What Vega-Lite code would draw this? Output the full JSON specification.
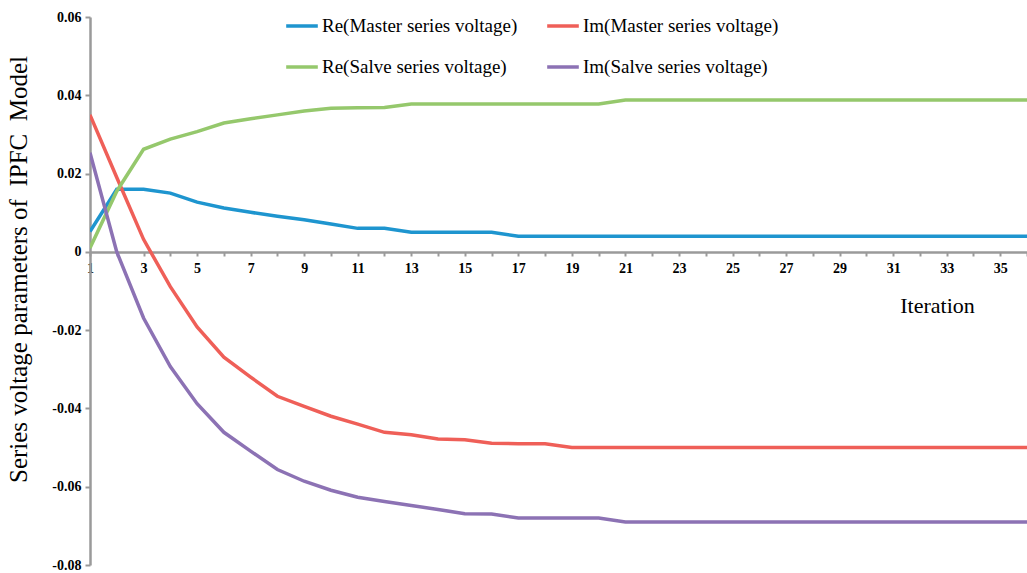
{
  "$schema": "https://vega.github.io/schema/vega-lite/v6.json",
  "autosize": "none",
  "padding": {"left": 90, "top": 17, "right": 0, "bottom": 8},
  "width": 937,
  "height": 548,
  "background": "white",
  "config": {"view": {"stroke": null}},
  "data": {"values": [
    {"it":1,"s":"Re(Master series voltage)","v":0.0052},
    {"it":2,"s":"Re(Master series voltage)","v":0.016},
    {"it":3,"s":"Re(Master series voltage)","v":0.016},
    {"it":4,"s":"Re(Master series voltage)","v":0.015},
    {"it":5,"s":"Re(Master series voltage)","v":0.0127},
    {"it":6,"s":"Re(Master series voltage)","v":0.0112},
    {"it":7,"s":"Re(Master series voltage)","v":0.0101},
    {"it":8,"s":"Re(Master series voltage)","v":0.0091},
    {"it":9,"s":"Re(Master series voltage)","v":0.0082},
    {"it":10,"s":"Re(Master series voltage)","v":0.0071},
    {"it":11,"s":"Re(Master series voltage)","v":0.006},
    {"it":12,"s":"Re(Master series voltage)","v":0.006},
    {"it":13,"s":"Re(Master series voltage)","v":0.005},
    {"it":14,"s":"Re(Master series voltage)","v":0.005},
    {"it":15,"s":"Re(Master series voltage)","v":0.005},
    {"it":16,"s":"Re(Master series voltage)","v":0.005},
    {"it":17,"s":"Re(Master series voltage)","v":0.004},
    {"it":18,"s":"Re(Master series voltage)","v":0.004},
    {"it":19,"s":"Re(Master series voltage)","v":0.004},
    {"it":20,"s":"Re(Master series voltage)","v":0.004},
    {"it":21,"s":"Re(Master series voltage)","v":0.004},
    {"it":22,"s":"Re(Master series voltage)","v":0.004},
    {"it":23,"s":"Re(Master series voltage)","v":0.004},
    {"it":24,"s":"Re(Master series voltage)","v":0.004},
    {"it":25,"s":"Re(Master series voltage)","v":0.004},
    {"it":26,"s":"Re(Master series voltage)","v":0.004},
    {"it":27,"s":"Re(Master series voltage)","v":0.004},
    {"it":28,"s":"Re(Master series voltage)","v":0.004},
    {"it":29,"s":"Re(Master series voltage)","v":0.004},
    {"it":30,"s":"Re(Master series voltage)","v":0.004},
    {"it":31,"s":"Re(Master series voltage)","v":0.004},
    {"it":32,"s":"Re(Master series voltage)","v":0.004},
    {"it":33,"s":"Re(Master series voltage)","v":0.004},
    {"it":34,"s":"Re(Master series voltage)","v":0.004},
    {"it":35,"s":"Re(Master series voltage)","v":0.004},
    {"it":36,"s":"Re(Master series voltage)","v":0.004},
    {"it":1,"s":"Im(Master series voltage)","v":0.035},
    {"it":2,"s":"Im(Master series voltage)","v":0.019},
    {"it":3,"s":"Im(Master series voltage)","v":0.0032},
    {"it":4,"s":"Im(Master series voltage)","v":-0.0089},
    {"it":5,"s":"Im(Master series voltage)","v":-0.0192},
    {"it":6,"s":"Im(Master series voltage)","v":-0.0269},
    {"it":7,"s":"Im(Master series voltage)","v":-0.032},
    {"it":8,"s":"Im(Master series voltage)","v":-0.0369},
    {"it":9,"s":"Im(Master series voltage)","v":-0.0395},
    {"it":10,"s":"Im(Master series voltage)","v":-0.042},
    {"it":11,"s":"Im(Master series voltage)","v":-0.044},
    {"it":12,"s":"Im(Master series voltage)","v":-0.0461},
    {"it":13,"s":"Im(Master series voltage)","v":-0.0467},
    {"it":14,"s":"Im(Master series voltage)","v":-0.0478},
    {"it":15,"s":"Im(Master series voltage)","v":-0.048},
    {"it":16,"s":"Im(Master series voltage)","v":-0.0489},
    {"it":17,"s":"Im(Master series voltage)","v":-0.049},
    {"it":18,"s":"Im(Master series voltage)","v":-0.049},
    {"it":19,"s":"Im(Master series voltage)","v":-0.05},
    {"it":20,"s":"Im(Master series voltage)","v":-0.05},
    {"it":21,"s":"Im(Master series voltage)","v":-0.05},
    {"it":22,"s":"Im(Master series voltage)","v":-0.05},
    {"it":23,"s":"Im(Master series voltage)","v":-0.05},
    {"it":24,"s":"Im(Master series voltage)","v":-0.05},
    {"it":25,"s":"Im(Master series voltage)","v":-0.05},
    {"it":26,"s":"Im(Master series voltage)","v":-0.05},
    {"it":27,"s":"Im(Master series voltage)","v":-0.05},
    {"it":28,"s":"Im(Master series voltage)","v":-0.05},
    {"it":29,"s":"Im(Master series voltage)","v":-0.05},
    {"it":30,"s":"Im(Master series voltage)","v":-0.05},
    {"it":31,"s":"Im(Master series voltage)","v":-0.05},
    {"it":32,"s":"Im(Master series voltage)","v":-0.05},
    {"it":33,"s":"Im(Master series voltage)","v":-0.05},
    {"it":34,"s":"Im(Master series voltage)","v":-0.05},
    {"it":35,"s":"Im(Master series voltage)","v":-0.05},
    {"it":36,"s":"Im(Master series voltage)","v":-0.05},
    {"it":1,"s":"Re(Salve series voltage)","v":0.001},
    {"it":2,"s":"Re(Salve series voltage)","v":0.0155},
    {"it":3,"s":"Re(Salve series voltage)","v":0.0262},
    {"it":4,"s":"Re(Salve series voltage)","v":0.0288},
    {"it":5,"s":"Re(Salve series voltage)","v":0.0307},
    {"it":6,"s":"Re(Salve series voltage)","v":0.0329},
    {"it":7,"s":"Re(Salve series voltage)","v":0.034},
    {"it":8,"s":"Re(Salve series voltage)","v":0.035},
    {"it":9,"s":"Re(Salve series voltage)","v":0.036},
    {"it":10,"s":"Re(Salve series voltage)","v":0.0367},
    {"it":11,"s":"Re(Salve series voltage)","v":0.0368},
    {"it":12,"s":"Re(Salve series voltage)","v":0.0369},
    {"it":13,"s":"Re(Salve series voltage)","v":0.0378},
    {"it":14,"s":"Re(Salve series voltage)","v":0.0378},
    {"it":15,"s":"Re(Salve series voltage)","v":0.0378},
    {"it":16,"s":"Re(Salve series voltage)","v":0.0378},
    {"it":17,"s":"Re(Salve series voltage)","v":0.0378},
    {"it":18,"s":"Re(Salve series voltage)","v":0.0378},
    {"it":19,"s":"Re(Salve series voltage)","v":0.0378},
    {"it":20,"s":"Re(Salve series voltage)","v":0.0378},
    {"it":21,"s":"Re(Salve series voltage)","v":0.0388},
    {"it":22,"s":"Re(Salve series voltage)","v":0.0388},
    {"it":23,"s":"Re(Salve series voltage)","v":0.0388},
    {"it":24,"s":"Re(Salve series voltage)","v":0.0388},
    {"it":25,"s":"Re(Salve series voltage)","v":0.0388},
    {"it":26,"s":"Re(Salve series voltage)","v":0.0388},
    {"it":27,"s":"Re(Salve series voltage)","v":0.0388},
    {"it":28,"s":"Re(Salve series voltage)","v":0.0388},
    {"it":29,"s":"Re(Salve series voltage)","v":0.0388},
    {"it":30,"s":"Re(Salve series voltage)","v":0.0388},
    {"it":31,"s":"Re(Salve series voltage)","v":0.0388},
    {"it":32,"s":"Re(Salve series voltage)","v":0.0388},
    {"it":33,"s":"Re(Salve series voltage)","v":0.0388},
    {"it":34,"s":"Re(Salve series voltage)","v":0.0388},
    {"it":35,"s":"Re(Salve series voltage)","v":0.0388},
    {"it":36,"s":"Re(Salve series voltage)","v":0.0388},
    {"it":1,"s":"Im(Salve series voltage)","v":0.0253},
    {"it":2,"s":"Im(Salve series voltage)","v":0.0},
    {"it":3,"s":"Im(Salve series voltage)","v":-0.0169},
    {"it":4,"s":"Im(Salve series voltage)","v":-0.0293},
    {"it":5,"s":"Im(Salve series voltage)","v":-0.0388},
    {"it":6,"s":"Im(Salve series voltage)","v":-0.0461},
    {"it":7,"s":"Im(Salve series voltage)","v":-0.0509},
    {"it":8,"s":"Im(Salve series voltage)","v":-0.0556},
    {"it":9,"s":"Im(Salve series voltage)","v":-0.0586},
    {"it":10,"s":"Im(Salve series voltage)","v":-0.0609},
    {"it":11,"s":"Im(Salve series voltage)","v":-0.0627},
    {"it":12,"s":"Im(Salve series voltage)","v":-0.0638},
    {"it":13,"s":"Im(Salve series voltage)","v":-0.0648},
    {"it":14,"s":"Im(Salve series voltage)","v":-0.0658},
    {"it":15,"s":"Im(Salve series voltage)","v":-0.0669},
    {"it":16,"s":"Im(Salve series voltage)","v":-0.067},
    {"it":17,"s":"Im(Salve series voltage)","v":-0.068},
    {"it":18,"s":"Im(Salve series voltage)","v":-0.068},
    {"it":19,"s":"Im(Salve series voltage)","v":-0.068},
    {"it":20,"s":"Im(Salve series voltage)","v":-0.068},
    {"it":21,"s":"Im(Salve series voltage)","v":-0.069},
    {"it":22,"s":"Im(Salve series voltage)","v":-0.069},
    {"it":23,"s":"Im(Salve series voltage)","v":-0.069},
    {"it":24,"s":"Im(Salve series voltage)","v":-0.069},
    {"it":25,"s":"Im(Salve series voltage)","v":-0.069},
    {"it":26,"s":"Im(Salve series voltage)","v":-0.069},
    {"it":27,"s":"Im(Salve series voltage)","v":-0.069},
    {"it":28,"s":"Im(Salve series voltage)","v":-0.069},
    {"it":29,"s":"Im(Salve series voltage)","v":-0.069},
    {"it":30,"s":"Im(Salve series voltage)","v":-0.069},
    {"it":31,"s":"Im(Salve series voltage)","v":-0.069},
    {"it":32,"s":"Im(Salve series voltage)","v":-0.069},
    {"it":33,"s":"Im(Salve series voltage)","v":-0.069},
    {"it":34,"s":"Im(Salve series voltage)","v":-0.069},
    {"it":35,"s":"Im(Salve series voltage)","v":-0.069},
    {"it":36,"s":"Im(Salve series voltage)","v":-0.069}
  ]},
  "mark": {"type": "line", "strokeWidth": 3.5, "clip": true},
  "encoding": {
    "x": {
      "field": "it", "type": "quantitative",
      "scale": {"domain": [1, 36], "nice": false, "zero": false},
      "axis": {
        "orient": "bottom", "offset": -313,
        "values": [1,2,3,4,5,6,7,8,9,10,11,12,13,14,15,16,17,18,19,20,21,22,23,24,25,26,27,28,29,30,31,32,33,34,35,36],
        "labelExpr": "datum.value % 2 == 1 ? datum.label : ''",
        "grid": false,
        "domainColor": "#9a9a9a", "domainWidth": 2.5,
        "tickColor": "#9a9a9a", "tickWidth": 2, "tickSize": 4,
        "labelFont": "Liberation Serif", "labelFontWeight": "bold", "labelFontSize": 14, "labelColor": "black",
        "labelPadding": 5, "labelFlush": false, "labelOverlap": false,
        "title": "Iteration",
        "titleFont": "Liberation Serif", "titleFontWeight": "normal", "titleFontSize": 22, "titleColor": "black",
        "titleX": 847, "titleY": 53, "titleAlign": "center", "titleBaseline": "middle"
      }
    },
    "y": {
      "field": "v", "type": "quantitative",
      "scale": {"domain": [-0.08, 0.06], "nice": false, "zero": false},
      "axis": {
        "values": [-0.08, -0.06, -0.04, -0.02, 0, 0.02, 0.04, 0.06],
        "labelExpr": "replace(format(datum.value, '.2~f'), '\u2212', '-')",
        "grid": false,
        "domainColor": "#9a9a9a", "domainWidth": 2.5,
        "tickColor": "#9a9a9a", "tickWidth": 2, "tickSize": 5,
        "labelFont": "Liberation Serif", "labelFontWeight": "bold", "labelFontSize": 14, "labelColor": "black",
        "labelPadding": 4, "labelFlush": false, "labelOverlap": false,
        "title": "Series voltage parameters of \u00a0IPFC \u00a0Model",
        "titleFont": "Liberation Serif", "titleFontWeight": "normal", "titleFontSize": 25, "titleColor": "black",
        "titleX": -72, "titleY": 252, "titleAngle": -90, "titleAlign": "center", "titleBaseline": "middle"
      }
    },
    "color": {
      "field": "s", "type": "nominal",
      "scale": {
        "domain": ["Re(Master series voltage)", "Im(Master series voltage)", "Re(Salve series voltage)", "Im(Salve series voltage)"],
        "range": ["#1E95CF", "#EF5F58", "#95C86C", "#8C72B4"]
      },
      "legend": {
        "orient": "none", "legendX": 194, "legendY": -9,
        "columns": 2, "direction": "horizontal", "title": null,
        "symbolType": "stroke", "symbolSize": 1000, "symbolStrokeWidth": 3.5,
        "labelFont": "Liberation Serif", "labelFontSize": 19, "labelColor": "black", "labelOffset": 2,
        "labelLimit": 400, "rowPadding": 13, "columnPadding": 22
      }
    }
  }
}
